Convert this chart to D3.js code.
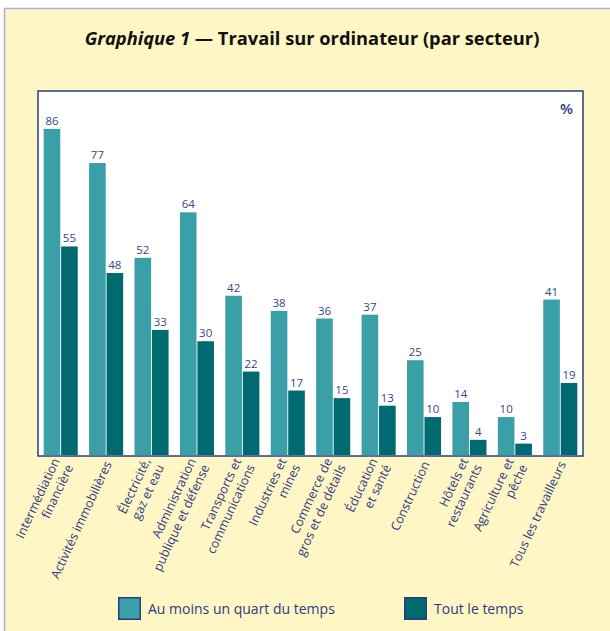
<!DOCTYPE html>
<html>
<head>
<meta charset="utf-8">
<script src="https://cdn.jsdelivr.net/npm/d3@7"></script>
<style>
  body { margin: 0; background: #fff; }
  svg { display: block; font-family: "Open Sans", "DejaVu Sans", sans-serif; }
</style>
</head>
<body>
<div id="chart"></div>
<script>
// sectors, each label split in lines as printed
var sectors = [
    ["Intermédiation", "financière"],
    ["Activités immobilières"],
    ["Électricité,", "gaz et eau"],
    ["Administration", "publique et défense"],
    ["Transports et", "communications"],
    ["Industries et", "mines"],
    ["Commerce de", "gros et de détails"],
    ["Éducation", "et santé"],
    ["Construction"],
    ["Hôtels et", "restaurants"],
    ["Agriculture et", "pêche"],
    ["Tous les travailleurs"]
];
var quarterTime = [86, 77, 52, 64, 42, 38, 36, 37, 25, 14, 10, 41];
var allTime = [55, 48, 33, 30, 22, 17, 15, 13, 10, 4, 3, 19];
var seriesNames = ["Au moins un quart du temps", "Tout le temps"];

var width = 610, height = 631;
var lightColor = "#3a9fa6", darkColor = "#016970";
var navy = "#2d3c80";
var plot = {left: 38, right: 583, top: 91, bottom: 455};

var svg = d3.select("#chart").append("svg")
    .attr("width", width)
    .attr("height", height)
    .attr("viewBox", [0, 0, width, height]);

// yellow frame
svg.append("rect")
    .attr("x", 4.5).attr("y", 8.5)
    .attr("width", 640).attr("height", 640)
    .attr("fill", "#fff6c6")
    .attr("stroke", "#a9b0dc")
    .attr("stroke-width", 1.5);

// title
var title = svg.append("text")
    .attr("x", 312).attr("y", 45)
    .attr("text-anchor", "middle")
    .attr("font-size", 18.3)
    .attr("font-weight", "bold")
    .attr("fill", "#111");
title.append("tspan").attr("font-style", "italic").text("Graphique 1");
title.append("tspan").text(" — Travail sur ordinateur (par secteur)");

// plot area
svg.append("rect")
    .attr("x", plot.left).attr("y", plot.top)
    .attr("width", plot.right - plot.left)
    .attr("height", plot.bottom + 1 - plot.top)
    .attr("fill", "#fff")
    .attr("stroke", navy)
    .attr("stroke-width", 1.5);

svg.append("text")
    .attr("x", 573).attr("y", 114)
    .attr("text-anchor", "end")
    .attr("font-size", 15)
    .attr("font-weight", 600)
    .attr("fill", navy)
    .text("%");

var x = d3.scaleBand(d3.range(sectors.length), [plot.left, plot.right])
    .paddingInner(0.25)
    .paddingOuter(0.125);
var xSub = d3.scaleBand([0, 1], [0, x.bandwidth()]).paddingInner(0.05);
var y = d3.scaleLinear([0, 96], [plot.bottom, plot.top]);

var rows = [];
sectors.forEach(function(s, i) {
    rows.push({i: i, k: 0, value: quarterTime[i]});
    rows.push({i: i, k: 1, value: allTime[i]});
});

var bars = svg.append("g");
bars.selectAll("rect")
    .data(rows)
    .join("rect")
    .attr("x", d => x(d.i) + xSub(d.k))
    .attr("y", d => y(d.value))
    .attr("width", xSub.bandwidth())
    .attr("height", d => y(0) - y(d.value))
    .attr("fill", d => d.k === 0 ? lightColor : darkColor);

bars.selectAll("text")
    .data(rows)
    .join("text")
    .attr("x", d => x(d.i) + xSub(d.k) + xSub.bandwidth() / 2)
    .attr("y", d => y(d.value) - 4)
    .attr("text-anchor", "middle")
    .attr("font-size", 11.5)
    .attr("fill", "#34468a")
    .text(d => d.value);

// rotated category labels
var labels = svg.append("g")
    .selectAll("g")
    .data(sectors)
    .join("g")
    .attr("transform", (d, i) => "translate(" + (x(i) + x.bandwidth() / 2 + 2) + "," + 462 + ") rotate(-65)");

labels.each(function(lines) {
    var t = d3.select(this).append("text")
        .attr("text-anchor", "end")
        .attr("font-size", 12.5)
        .attr("fill", navy);
    lines.forEach(function(line, j) {
        t.append("tspan")
            .attr("x", 0)
            .attr("y", (j - (lines.length - 1) / 2) * 15)
            .attr("dy", "0.35em")
            .text(line);
    });
});

// legend
var legendX = [118, 404];
var legend = svg.append("g")
    .selectAll("g")
    .data(seriesNames)
    .join("g")
    .attr("transform", (d, i) => "translate(" + legendX[i] + ",597)");
legend.append("rect")
    .attr("x", 0.75).attr("y", 0.75)
    .attr("width", 21.5).attr("height", 21.5)
    .attr("fill", (d, i) => i === 0 ? lightColor : darkColor)
    .attr("stroke", navy)
    .attr("stroke-width", 1.5);
legend.append("text")
    .attr("x", 30).attr("y", 17)
    .attr("font-size", 14)
    .attr("fill", navy)
    .text(d => d);
</script>
</body>
</html>
